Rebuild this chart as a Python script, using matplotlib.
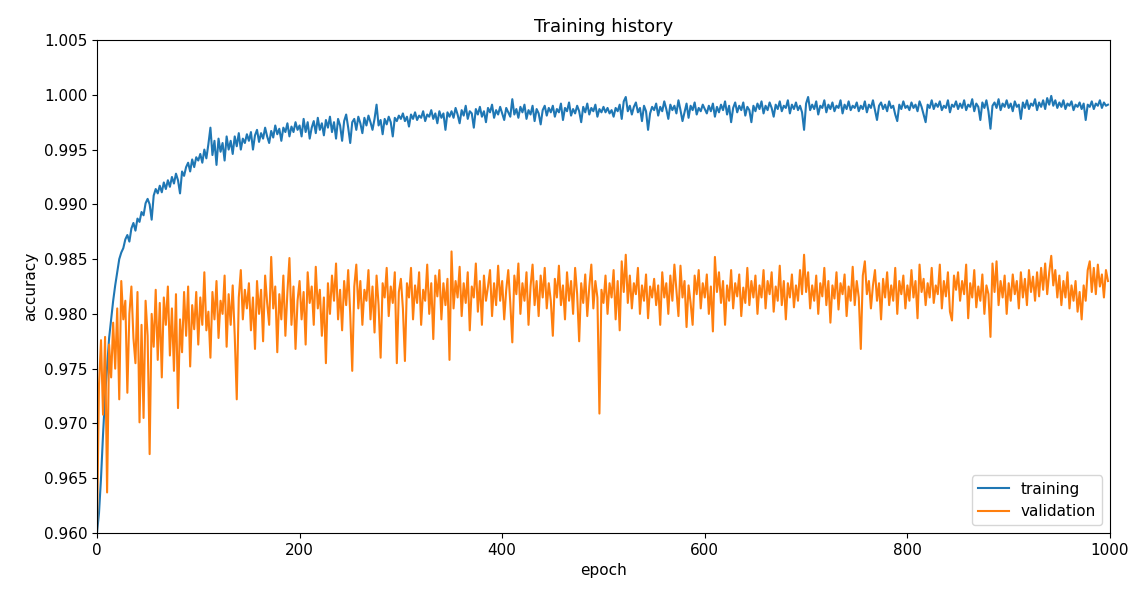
import numpy as np
import matplotlib
matplotlib.use("Agg")
import matplotlib.pyplot as plt

# accuracy x 1e4, one value every 2 epochs (0, 2, ..., 998)
train_acc = [
    9600, 9618, 9650, 9690, 9725, 9752, 9778, 9795, 9812, 9826, 9838, 9850, 9856, 9860, 9868, 9872, 9866, 9878, 9883, 9876, 9887, 9884, 9893, 9890, 9901,
    9905, 9900, 9886, 9908, 9914, 9910, 9917, 9911, 9920, 9914, 9922, 9916, 9925, 9919, 9928, 9922, 9910, 9930, 9926, 9934, 9938, 9930, 9941, 9934, 9943,
    9940, 9946, 9938, 9950, 9942, 9955, 9970, 9945, 9958, 9936, 9960, 9948, 9956, 9940, 9962, 9950, 9958, 9946, 9962, 9953, 9965, 9950, 9960, 9956, 9964,
    9958, 9966, 9950, 9963, 9968, 9957, 9965, 9960, 9970, 9962, 9956, 9967, 9961, 9972, 9964, 9969, 9958, 9970, 9966, 9974, 9962, 9971, 9966, 9975, 9968,
    9972, 9962, 9978, 9966, 9975, 9960, 9970, 9976, 9965, 9979, 9968, 9974, 9963, 9977, 9970, 9980, 9966, 9975, 9960, 9978, 9972, 9958, 9976, 9982, 9970,
    9956, 9975, 9978, 9968, 9980, 9974, 9965, 9979, 9972, 9981, 9975, 9968, 9978, 9991, 9972, 9977, 9964, 9978, 9973, 9980, 9975, 9962, 9979, 9976, 9981,
    9978, 9983, 9976, 9980, 9971, 9982, 9978, 9984, 9977, 9981, 9979, 9985, 9976, 9982, 9980, 9986, 9978, 9983, 9974, 9985, 9979, 9983, 9968, 9984, 9980,
    9985, 9979, 9988, 9982, 9974, 9986, 9981, 9990, 9978, 9985, 9983, 9970, 9987, 9982, 9989, 9980, 9985, 9975, 9988, 9984, 9991, 9979, 9986, 9982, 9989,
    9983, 9977, 9988, 9984, 9980, 9996, 9982, 9987, 9979, 9989, 9984, 9991, 9978, 9986, 9982, 9990, 9976, 9987, 9983, 9973, 9986, 9990, 9981, 9988, 9984,
    9990, 9980, 9987, 9984, 9992, 9977, 9988, 9985, 9993, 9981, 9987, 9983, 9990, 9985, 9975, 9989, 9984, 9992, 9982, 9988, 9985, 9991, 9980, 9987, 9984,
    9989, 9984, 9988, 9983, 9986, 9980, 9988, 9985, 9991, 9978, 9994, 9998, 9985, 9990, 9982, 9989, 9993, 9984, 9988, 9976, 9990, 9985, 9968, 9983, 9989,
    9986, 9992, 9981, 9989, 9985, 9994, 9987, 9978, 9991, 9986, 9990, 9983, 9995, 9986, 9976, 9984, 9992, 9979, 9990, 9986, 9993, 9982, 9988, 9985, 9991,
    9987, 9983, 9990, 9985, 9992, 9980, 9989, 9984, 9991, 9986, 9994, 9982, 9990, 9975, 9988, 9993, 9984, 9990, 9986, 9993, 9981, 9989, 9986, 9975, 9990,
    9985, 9992, 9987, 9994, 9983, 9990, 9986, 9993, 9988, 9980, 9991, 9987, 9994, 9985, 9990, 9988, 9995, 9983, 9991, 9987, 9993, 9986, 9990, 9984, 9968,
    9992, 9998, 9986, 9991, 9987, 9994, 9982, 9990, 9988, 9995, 9984, 9991, 9987, 9993, 9985, 9990, 9988, 9995, 9983, 9991, 9987, 9994, 9986, 9990, 9988,
    9993, 9985, 9990, 9987, 9994, 9984, 9991, 9988, 9995, 9986, 9977, 9990, 9993, 9987, 9991, 9985, 9994, 9988, 9990, 9982, 9976, 9991, 9987, 9994, 9988,
    9990, 9986, 9993, 9988, 9991, 9985, 9994, 9989, 9982, 9975, 9991, 9988, 9995, 9987, 9992, 9989, 9994, 9986, 9990, 9988, 9995, 9984, 9991, 9989, 9994,
    9987, 9992, 9988, 9995, 9986, 9991, 9989, 9996, 9985, 9992, 9989, 9977, 9993, 9988, 9995, 9985, 9969, 9990, 9993, 9988, 9996, 9986, 9992, 9989, 9995,
    9988, 9992, 9985, 9994, 9989, 9991, 9978, 9993, 9988, 9995, 9987, 9992, 9990, 9996, 9986, 9993, 9989, 9995, 9987, 9997, 9991, 9999, 9990, 9995, 9988,
    9993, 9989, 9995, 9987, 9992, 9990, 9994, 9986, 9991, 9989, 9993, 9987, 9992, 9977, 9991, 9989, 9994, 9987, 9992, 9990, 9995, 9988, 9993, 9990, 9991,
]

val_acc = [
    9600, 9735, 9776, 9708, 9779, 9637, 9772, 9742, 9792, 9750, 9805, 9722, 9830, 9795, 9812, 9728, 9800, 9825, 9778, 9755, 9820, 9701, 9790, 9705, 9812,
    9780, 9672, 9800, 9770, 9822, 9758, 9810, 9742, 9815, 9790, 9825, 9762, 9805, 9748, 9818, 9714, 9795, 9765, 9820, 9780, 9825, 9752, 9808, 9786, 9820,
    9772, 9815, 9790, 9838, 9785, 9802, 9760, 9820, 9795, 9830, 9778, 9812, 9800, 9835, 9770, 9818, 9790, 9826, 9780, 9722, 9815, 9840, 9795, 9822, 9805,
    9828, 9785, 9815, 9768, 9830, 9800, 9822, 9775, 9835, 9810, 9790, 9852, 9805, 9825, 9765, 9818, 9795, 9835, 9780, 9820, 9851, 9790, 9825, 9768, 9812,
    9830, 9795, 9820, 9772, 9838, 9810, 9825, 9790, 9843, 9805, 9822, 9780, 9815, 9755, 9828, 9800, 9835, 9812, 9846, 9795, 9822, 9785, 9830, 9808, 9840,
    9800, 9748, 9825, 9845, 9805, 9830, 9790, 9822, 9812, 9840, 9795, 9825, 9783, 9835, 9808, 9760, 9828, 9815, 9842, 9798, 9825, 9810, 9838, 9755, 9820,
    9832, 9805, 9757, 9828, 9815, 9842, 9795, 9826, 9810, 9838, 9790, 9822, 9812, 9845, 9800, 9828, 9777, 9835, 9816, 9840, 9795, 9828, 9808, 9832, 9758,
    9857, 9805, 9830, 9815, 9843, 9798, 9828, 9810, 9838, 9785, 9825, 9815, 9846, 9802, 9830, 9790, 9835, 9812, 9825, 9840, 9798, 9828, 9808, 9844, 9812,
    9830, 9795, 9822, 9840, 9810, 9774, 9835, 9818, 9846, 9800, 9828, 9812, 9838, 9790, 9825, 9845, 9808, 9830, 9798, 9835, 9815, 9842, 9805, 9828, 9812,
    9780, 9832, 9815, 9844, 9808, 9826, 9795, 9838, 9812, 9830, 9800, 9842, 9818, 9775, 9828, 9810, 9836, 9798, 9825, 9845, 9805, 9830, 9815, 9709, 9822,
    9810, 9835, 9800, 9828, 9815, 9840, 9795, 9830, 9785, 9848, 9820, 9854, 9810, 9835, 9805, 9828, 9818, 9842, 9800, 9826, 9812, 9836, 9796, 9825, 9815,
    9832, 9808, 9826, 9790, 9838, 9815, 9828, 9800, 9835, 9812, 9845, 9822, 9798, 9844, 9815, 9830, 9788, 9826, 9810, 9790, 9835, 9818, 9840, 9805, 9828,
    9815, 9836, 9800, 9825, 9784, 9852, 9820, 9838, 9810, 9830, 9790, 9826, 9812, 9840, 9805, 9828, 9816, 9836, 9798, 9824, 9810, 9842, 9808, 9830, 9815,
    9835, 9800, 9826, 9815, 9840, 9805, 9830, 9818, 9838, 9802, 9825, 9812, 9844, 9808, 9830, 9795, 9828, 9815, 9836, 9806, 9826, 9812, 9840, 9818, 9854,
    9820, 9838, 9805, 9826, 9812, 9835, 9800, 9828, 9816, 9842, 9808, 9830, 9792, 9826, 9814, 9838, 9804, 9828, 9818, 9836, 9798, 9825, 9812, 9843, 9808,
    9830, 9815, 9768, 9835, 9848, 9818, 9830, 9805, 9826, 9840, 9812, 9828, 9795, 9832, 9815, 9838, 9808, 9826, 9812, 9842, 9800, 9830, 9818, 9835, 9805,
    9826, 9812, 9840, 9815, 9830, 9796, 9845, 9820, 9832, 9808, 9828, 9815, 9842, 9810, 9826, 9818, 9845, 9805, 9830, 9816, 9838, 9802, 9794, 9835, 9822,
    9838, 9812, 9830, 9818, 9845, 9796, 9828, 9815, 9840, 9806, 9825, 9812, 9836, 9800, 9826, 9818, 9779, 9846, 9820, 9848, 9808, 9830, 9815, 9835, 9800,
    9828, 9812, 9836, 9818, 9830, 9805, 9838, 9815, 9832, 9808, 9840, 9820, 9834, 9812, 9838, 9816, 9842, 9822, 9846, 9818, 9838, 9853, 9826, 9840, 9815,
    9835, 9808, 9830, 9815, 9838, 9805, 9826, 9812, 9830, 9802, 9820, 9795, 9826, 9812, 9840, 9848, 9820, 9842, 9818, 9845, 9825, 9836, 9815, 9840, 9830,
]

epochs = np.arange(0, 2 * len(train_acc), 2)
train = np.array(train_acc) / 10000
val = np.array(val_acc) / 10000

fig = plt.figure(figsize=(11.38, 5.93), dpi=100)
ax = fig.add_axes([0.0852, 0.1012, 0.8902, 0.8313])
ax.plot(epochs, train, label="training")
ax.plot(epochs, val, label="validation")
ax.set_xlim(0, 1000)
ax.set_ylim(0.960, 1.005)
ax.set_yticks(np.arange(0.960, 1.0051, 0.005))
ax.yaxis.set_major_formatter(matplotlib.ticker.FormatStrFormatter("%.3f"))
ax.set_title("Training history", fontsize=13)
ax.set_xlabel("epoch", fontsize=11)
ax.set_ylabel("accuracy", fontsize=11)
ax.tick_params(labelsize=11)
ax.legend(loc="lower right", fontsize=11)
fig.savefig("out.png", dpi=100)
